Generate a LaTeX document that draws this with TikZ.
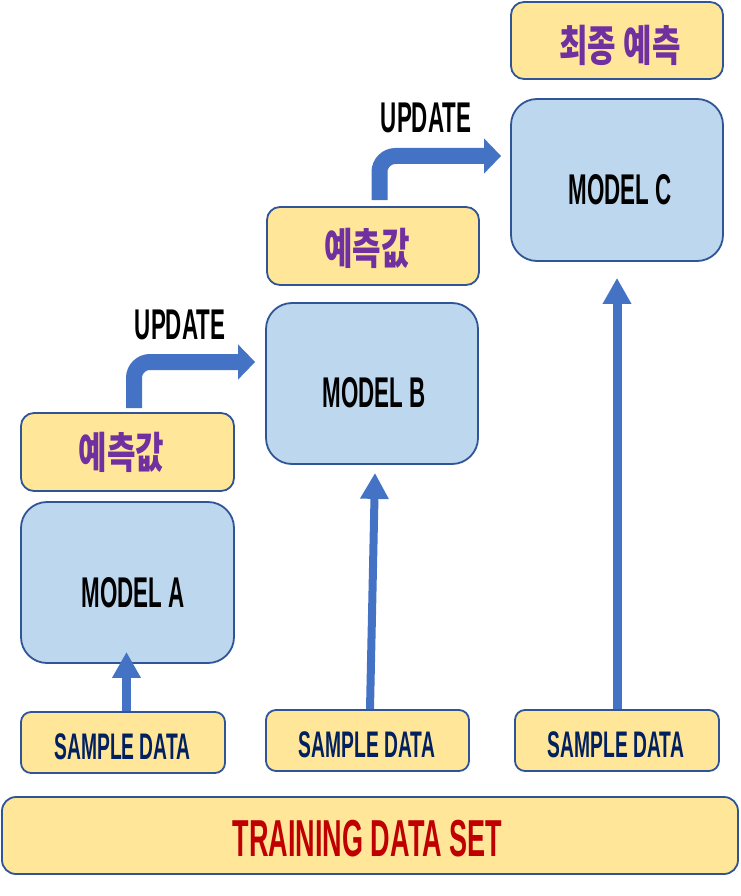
\documentclass[tikz,border=0pt]{standalone}
\usepackage{fontspec}
\usetikzlibrary{arrows.meta,calc}
\newfontfamily\condf[FakeStretch=0.52]{Liberation Sans}
\newfontfamily\krf[FakeStretch=0.72]{Noto Sans CJK KR}
\definecolor{bfill}{HTML}{BDD7EE}
\definecolor{yfill}{HTML}{FFE699}
\definecolor{bord}{HTML}{2F5597}
\definecolor{arr}{HTML}{4472C4}
\definecolor{purp}{HTML}{7030A0}
\definecolor{navy}{HTML}{002060}
\definecolor{redt}{HTML}{C00000}
\tikzset{
  bx/.style={draw=bord, line width=1.8pt, inner sep=0pt},
  modelbox/.style={bx, fill=bfill, rounded corners=26pt, minimum width=212pt, minimum height=161pt},
  predbox/.style={bx, fill=yfill, rounded corners=13pt, minimum width=212pt, minimum height=78pt},
  samplebox/.style={bx, fill=yfill, rounded corners=10pt, minimum width=204pt, minimum height=61pt},
  trainbox/.style={bx, fill=yfill, rounded corners=14pt, minimum width=736pt, minimum height=77pt},
  mtext/.style={inner sep=0pt, font=\condf\bfseries\fontsize{43}{43}\selectfont, text=black},
  stext/.style={inner sep=0pt, font=\condf\bfseries\fontsize{37}{37}\selectfont, text=navy},
  ttext/.style={inner sep=0pt, font=\condf\bfseries\fontsize{52}{52}\selectfont, text=redt},
  ktext/.style={inner sep=0pt, font=\krf\bfseries\fontsize{43}{43}\selectfont, text=purp},
  uptext/.style={inner sep=0pt, font=\condf\bfseries\fontsize{43}{43}\selectfont, text=black},
  varrow/.style={draw=arr, line width=9pt, -{Triangle[width=27pt,length=26pt]}},
  uarrow/.style={draw=arr, line width=16pt, rounded corners=16pt, -{Triangle[width=34pt,length=17pt]}}
}
\begin{document}
\begin{tikzpicture}[x=1pt,y=-1pt]
\useasboundingbox (0,0) rectangle (740,896);
% boxes
\node[trainbox] (train) at (370,835.5) {};
\node[samplebox] (sA) at (123,742.5) {};
\node[samplebox, minimum width=203pt] (sB) at (367.5,740.5) {};
\node[samplebox] (sC) at (617,740.5) {};
\node[modelbox, minimum width=213pt] (mA) at (127.5,582.5) {};
\node[predbox, minimum width=213pt] (pA) at (127.5,452) {};
\node[modelbox] (mB) at (372,383.5) {};
\node[predbox] (pB) at (373,246) {};
\node[modelbox, minimum height=162pt] (mC) at (617,180) {};
\node[predbox, minimum height=77pt] (fin) at (617,40.5) {};
% texts
\node[ttext] (tT) at (367.5,839) {TRAINING DATA SET};
\node[stext] (tsA) at (122.5,746.5) {SAMPLE DATA};
\node[stext] (tsB) at (367,744.5) {SAMPLE DATA};
\node[stext] (tsC) at (616,744.5) {SAMPLE DATA};
\node[mtext] (tmA) at (133,593) {MODEL A};
\node[mtext] (tmB) at (374,393) {MODEL B};
\node[mtext] (tmC) at (620,190) {MODEL C};
\node[ktext] (tpA) at (121.5,452) {예측값};
\node[ktext] (tpB) at (367,248) {예측값};
\node[ktext] (tfin) at (620,45) {최종 예측};
\node[uptext] (u1) at (180,325) {UPDATE};
\node[uptext] (u2) at (426,118) {UPDATE};
% vertical arrows
\coordinate (aA0) at ($(sA.north)+(3.5,0)$);
\coordinate (aA1) at ($(mA.south)+(-1,-12)$);
\draw[varrow] (aA0) -- (aA1);
\coordinate (aB0) at ($(sB.north)+(2.5,0)$);
\coordinate (aB1) at ($(mB.south)+(3,8)$);
\draw[varrow, line width=8pt] (aB0) -- (aB1);
\coordinate (aC0) at (sC.north);
\coordinate (aC1) at ($(mC.south)+(0,16)$);
\draw[varrow] (aC0) -- (aC1);
% update arrows
\coordinate (uA0) at (134,408);
\coordinate (uA1) at ($(mB.west)+(-10,-21.5)$);
\draw[uarrow] (uA0) |- (uA1);
\coordinate (uB0) at (379.5,200);
\coordinate (uB1) at ($(mC.west)+(-9,-24)$);
\draw[uarrow] (uB0) |- (uB1);
\end{tikzpicture}
\end{document}
